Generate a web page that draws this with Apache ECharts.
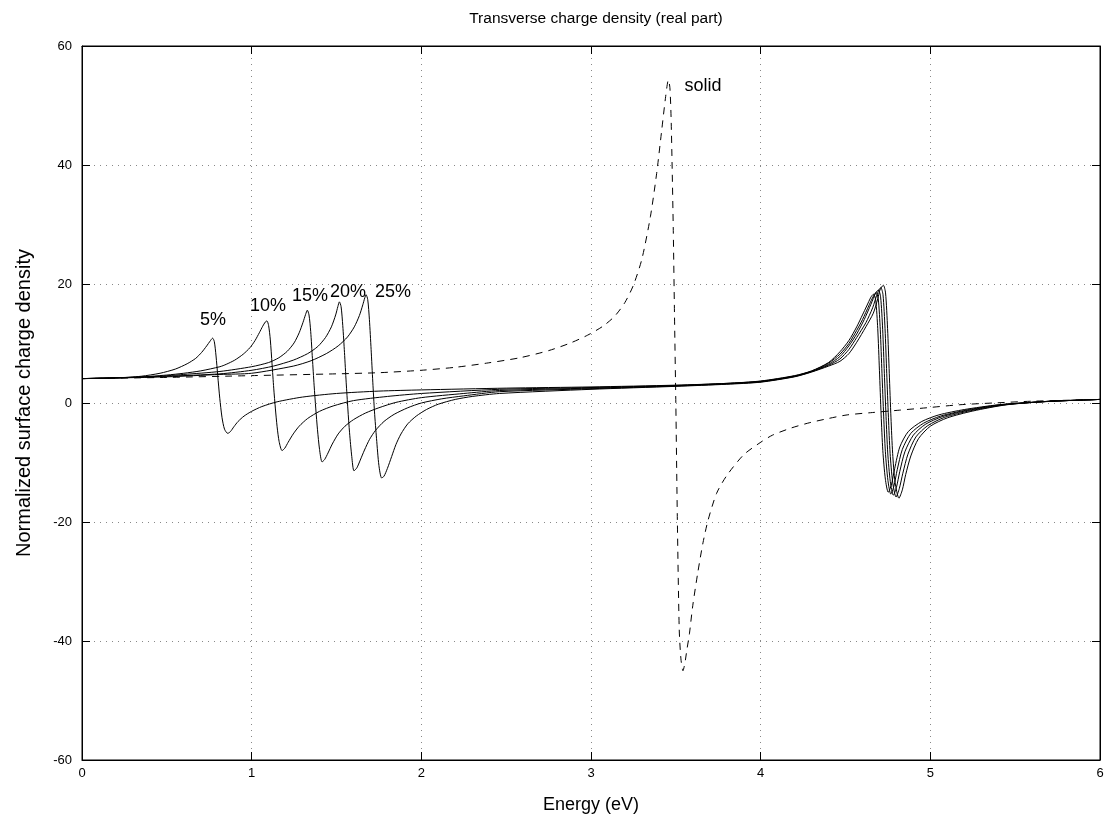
<!DOCTYPE html>
<html>
<head>
<meta charset="utf-8">
<script src="https://cdn.jsdelivr.net/npm/echarts@6/dist/echarts.min.js"></script>
<style>html,body{margin:0;padding:0;background:#fff}#c{width:1120px;height:823px}</style>
</head>
<body>
<div id="c"></div>
<script>
// ---- Data ----
const xTicks = [0, 1, 2, 3, 4, 5, 6];
const yTicks = [-60, -40, -20, 0, 20, 40, 60];

const curve5 = [[0,4.1],[0.2,4.2],[0.35,4.5],[0.46,5.0],[0.55,5.7],[0.62,6.6],[0.67,7.5],[0.705,8.5],[0.735,9.6],[0.755,10.4],[0.770,10.9],[0.780,10.3],[0.790,7.9],[0.800,4.6],[0.812,0.8],[0.825,-2.4],[0.840,-4.4],[0.859,-5.1],[0.875,-4.8],[0.895,-4.0],[0.92,-3.1],[0.955,-2.2],[1.0,-1.4],[1.06,-0.6],[1.15,0.2],[1.3,1.0],[1.5,1.6],[1.75,2.0],[2.0,2.2],[2.5,2.5],[3.0,2.7],[3.5,3.0],[3.8,3.3],[4.0,3.7],[4.2,4.6],[4.3,5.4],[4.4,6.8],[4.467,8.6],[4.52,10.5],[4.566,12.8],[4.6,14.8],[4.625,16.3],[4.65,17.8],[4.665,18.3],[4.678,17.3],[4.69,12.5],[4.70,5.5],[4.71,-2.0],[4.72,-8.0],[4.735,-12.8],[4.752,-15.0],[4.77,-13.8],[4.79,-11.0],[4.82,-7.4],[4.87,-4.8],[4.95,-3.1],[5.05,-2.0],[5.2,-1.1],[5.4,-0.3],[5.6,0.1],[5.8,0.4],[6.0,0.6]];

const curve10 = [[0,4.1],[0.3,4.3],[0.5,4.7],[0.6,5.0],[0.7,5.4],[0.813,6.1],[0.85,6.5],[0.9,7.2],[0.95,8.2],[0.99,9.3],[1.02,10.5],[1.045,11.8],[1.065,12.9],[1.08,13.6],[1.090,13.8],[1.100,13.0],[1.110,10.6],[1.120,6.6],[1.130,2.5],[1.140,-1.0],[1.150,-4.0],[1.162,-6.5],[1.179,-8.0],[1.195,-7.6],[1.215,-6.6],[1.245,-5.2],[1.28,-3.9],[1.33,-2.6],[1.40,-1.4],[1.48,-0.5],[1.6,0.4],[1.8,1.1],[2.0,1.6],[2.46,2.3],[3.0,2.6],[3.5,2.95],[3.8,3.3],[4.0,3.65],[4.2,4.55],[4.3,5.35],[4.4,6.7],[4.467,8.2],[4.52,10.0],[4.566,12.2],[4.6,14.0],[4.64,16.5],[4.665,18.0],[4.680,18.6],[4.693,17.5],[4.705,12.3],[4.715,5.0],[4.725,-2.2],[4.735,-8.2],[4.75,-13.0],[4.767,-15.3],[4.785,-14.0],[4.805,-11.2],[4.835,-7.8],[4.885,-5.1],[4.96,-3.4],[5.06,-2.2],[5.21,-1.2],[5.41,-0.3],[5.62,0.15],[5.8,0.4],[6.0,0.6]];

const curve15 = [[0,4.1],[0.4,4.4],[0.6,4.8],[0.813,5.3],[1.0,6.1],[1.1,6.8],[1.16,7.6],[1.21,8.7],[1.25,10.1],[1.28,11.8],[1.302,13.5],[1.318,14.9],[1.328,15.6],[1.338,14.8],[1.348,12.0],[1.358,7.5],[1.368,3.0],[1.378,-1.0],[1.388,-4.5],[1.400,-7.8],[1.415,-9.9],[1.43,-9.5],[1.45,-8.4],[1.475,-6.9],[1.51,-5.2],[1.55,-3.9],[1.60,-2.8],[1.67,-1.7],[1.75,-0.8],[1.85,0.1],[2.0,0.9],[2.25,1.6],[2.46,2.1],[3.0,2.5],[3.5,2.9],[3.8,3.25],[4.0,3.6],[4.2,4.5],[4.3,5.3],[4.4,6.5],[4.467,7.8],[4.52,9.6],[4.566,11.6],[4.61,14.0],[4.65,16.6],[4.678,18.5],[4.694,19.0],[4.707,17.8],[4.719,12.4],[4.729,5.0],[4.739,-2.3],[4.749,-8.4],[4.764,-13.2],[4.782,-15.5],[4.80,-14.2],[4.82,-11.5],[4.85,-8.2],[4.90,-5.4],[4.97,-3.6],[5.07,-2.3],[5.22,-1.25],[5.43,-0.3],[5.65,0.2],[5.8,0.4],[6.0,0.6]];

const curve20 = [[0,4.1],[0.5,4.5],[0.813,4.9],[1.0,5.5],[1.128,6.2],[1.245,7.2],[1.33,8.3],[1.39,9.5],[1.435,11.0],[1.47,12.8],[1.495,14.8],[1.508,16.2],[1.517,17.0],[1.527,16.2],[1.537,13.0],[1.547,8.5],[1.557,3.5],[1.567,-1.0],[1.577,-5.0],[1.590,-9.0],[1.603,-11.4],[1.62,-10.9],[1.64,-9.6],[1.665,-7.9],[1.695,-6.1],[1.73,-4.6],[1.78,-3.1],[1.84,-1.9],[1.92,-0.8],[2.0,0.0],[2.12,0.7],[2.25,1.2],[2.46,1.9],[3.0,2.4],[3.5,2.85],[3.8,3.2],[4.0,3.55],[4.2,4.45],[4.3,5.25],[4.4,6.35],[4.467,7.4],[4.52,9.0],[4.566,11.0],[4.62,13.5],[4.66,16.0],[4.69,18.6],[4.708,19.4],[4.721,18.2],[4.733,12.5],[4.743,5.0],[4.753,-2.4],[4.763,-8.5],[4.778,-13.3],[4.798,-15.8],[4.817,-14.4],[4.838,-11.8],[4.868,-8.6],[4.915,-5.7],[4.985,-3.8],[5.085,-2.4],[5.235,-1.3],[5.44,-0.3],[5.68,0.25],[5.85,0.45],[6.0,0.6]];

const curve25 = [[0,4.1],[0.5,4.4],[0.813,4.8],[1.0,5.0],[1.245,6.2],[1.35,7.1],[1.44,8.3],[1.51,9.6],[1.565,11.1],[1.605,12.8],[1.635,14.7],[1.655,16.5],[1.667,17.7],[1.674,18.2],[1.684,17.4],[1.694,14.0],[1.704,9.0],[1.714,3.5],[1.724,-1.5],[1.736,-6.0],[1.750,-10.5],[1.766,-12.6],[1.78,-12.3],[1.80,-11.0],[1.825,-9.0],[1.85,-7.0],[1.88,-5.2],[1.92,-3.5],[1.97,-2.2],[2.03,-1.1],[2.1,-0.2],[2.2,0.6],[2.3,1.1],[2.46,1.6],[3.0,2.3],[3.5,2.8],[3.8,3.15],[4.0,3.5],[4.2,4.4],[4.3,5.2],[4.4,6.2],[4.467,7.0],[4.52,8.3],[4.566,10.2],[4.62,12.8],[4.664,15.1],[4.69,17.5],[4.703,19.0],[4.723,19.8],[4.736,18.5],[4.748,12.5],[4.758,5.0],[4.768,-2.5],[4.778,-8.5],[4.792,-13.3],[4.815,-16.0],[4.835,-14.6],[4.855,-12.0],[4.885,-8.9],[4.93,-6.0],[5.0,-3.9],[5.1,-2.5],[5.25,-1.35],[5.45,-0.3],[5.7,0.3],[5.85,0.45],[6.0,0.6]];

const curveSolid = [[0,4.1],[0.5,4.3],[1.0,4.6],[1.5,4.9],[1.756,5.1],[2.0,5.5],[2.2,6.0],[2.385,6.7],[2.58,7.6],[2.75,8.8],[2.88,10.1],[2.98,11.4],[3.07,12.9],[3.14,14.6],[3.2,16.9],[3.25,19.8],[3.3,24.2],[3.35,31.3],[3.387,38.6],[3.417,45.9],[3.44,51.5],[3.456,54.3],[3.465,53.0],[3.472,48.0],[3.478,40.0],[3.485,29.0],[3.492,15.0],[3.50,0],[3.509,-19.7],[3.52,-38.0],[3.53,-43.0],[3.542,-45.0],[3.553,-43.8],[3.565,-41.5],[3.58,-38.8],[3.60,-34.0],[3.63,-28.4],[3.66,-23.5],[3.69,-19.7],[3.74,-15.2],[3.80,-12.2],[3.90,-8.7],[4.0,-6.6],[4.07,-5.4],[4.18,-4.2],[4.29,-3.3],[4.4,-2.6],[4.51,-2.0],[4.66,-1.6],[4.82,-1.2],[4.98,-0.8],[5.17,-0.3],[5.37,0.0],[5.6,0.3],[6.0,0.6]];

const labelTexts = ['5%', '10%', '15%', '20%', '25%', 'solid'];
const labelPos = [[0.772,13.9],[1.096,16.3],[1.344,18.0],[1.568,18.7],[1.833,18.7],[3.66,53.3]];

// ---- Chart ----
const chart = echarts.init(document.getElementById('c'), null, {renderer: 'canvas'});
const FONT = 'Liberation Sans, Arial, Helvetica, sans-serif';
function mk(name, data, dashed) {
  return {
    name: name, type: 'line', data: data, showSymbol: false, symbol: 'none',
    smooth: 0.25, animation: false, silent: true,
    lineStyle: dashed ? {color: '#000', width: 1, type: [7, 6]} : {color: '#000', width: 1},
    z: 3
  };
}
const splitDots = {show: true, lineStyle: {color: '#888', width: 1, type: [1, 5]}};
const tickStyle = {show: true, inside: true, length: 8, lineStyle: {color: '#000'}};
chart.setOption({
  animation: false,
  backgroundColor: '#fff',
  title: {
    text: 'Transverse charge density (real part)', left: 591, top: 6, textAlign: 'center',
    textStyle: {fontFamily: FONT, fontSize: 15.5, fontWeight: 'normal', color: '#000'}
  },
  grid: {left: 82, right: 20, top: 46, bottom: 63, show: true, borderColor: '#000', borderWidth: 1, backgroundColor: 'transparent'},
  xAxis: [{
    type: 'value', min: 0, max: 6, interval: 1, position: 'bottom',
    name: 'Energy (eV)', nameLocation: 'middle', nameGap: 36,
    nameTextStyle: {fontFamily: FONT, fontSize: 18, color: '#000'},
    axisLine: {show: true, onZero: false, lineStyle: {color: '#000', width: 1}},
    axisTick: tickStyle,
    axisLabel: {fontFamily: FONT, fontSize: 13, color: '#000', margin: 7,
      formatter: v => xTicks.indexOf(v) >= 0 ? String(v) : ''},
    splitLine: splitDots
  }, {
    type: 'value', min: 0, max: 6, interval: 1, position: 'top',
    axisLine: {show: true, onZero: false, lineStyle: {color: '#000'}},
    axisTick: tickStyle, axisLabel: {show: false}, splitLine: {show: false}
  }],
  yAxis: [{
    type: 'value', min: -60, max: 60, interval: 20, position: 'left',
    name: 'Normalized surface charge density', nameLocation: 'middle', nameGap: 48,
    nameTextStyle: {fontFamily: FONT, fontSize: 20, color: '#000'},
    axisLine: {show: true, onZero: false, lineStyle: {color: '#000', width: 1}},
    axisTick: tickStyle,
    axisLabel: {fontFamily: FONT, fontSize: 13, color: '#000', margin: 10,
      formatter: v => yTicks.indexOf(v) >= 0 ? String(v) : ''},
    splitLine: splitDots
  }, {
    type: 'value', min: -60, max: 60, interval: 20, position: 'right',
    axisLine: {show: true, onZero: false, lineStyle: {color: '#000'}},
    axisTick: tickStyle, axisLabel: {show: false}, splitLine: {show: false}
  }],
  series: [
    mk('5%', curve5, false),
    mk('10%', curve10, false),
    mk('15%', curve15, false),
    mk('20%', curve20, false),
    mk('25%', curve25, false),
    mk('solid', curveSolid, true),
    {
      type: 'scatter', symbolSize: 1, silent: true, animation: false, z: 5,
      itemStyle: {opacity: 0},
      data: labelPos.map((p, i) => ({value: p, name: labelTexts[i]})),
      label: {show: true, position: 'inside', formatter: p => p.name, opacity: 1,
        fontFamily: FONT, fontSize: 18, color: '#000', textBorderWidth: 0}
    }
  ]
});
</script>
</body>
</html>
